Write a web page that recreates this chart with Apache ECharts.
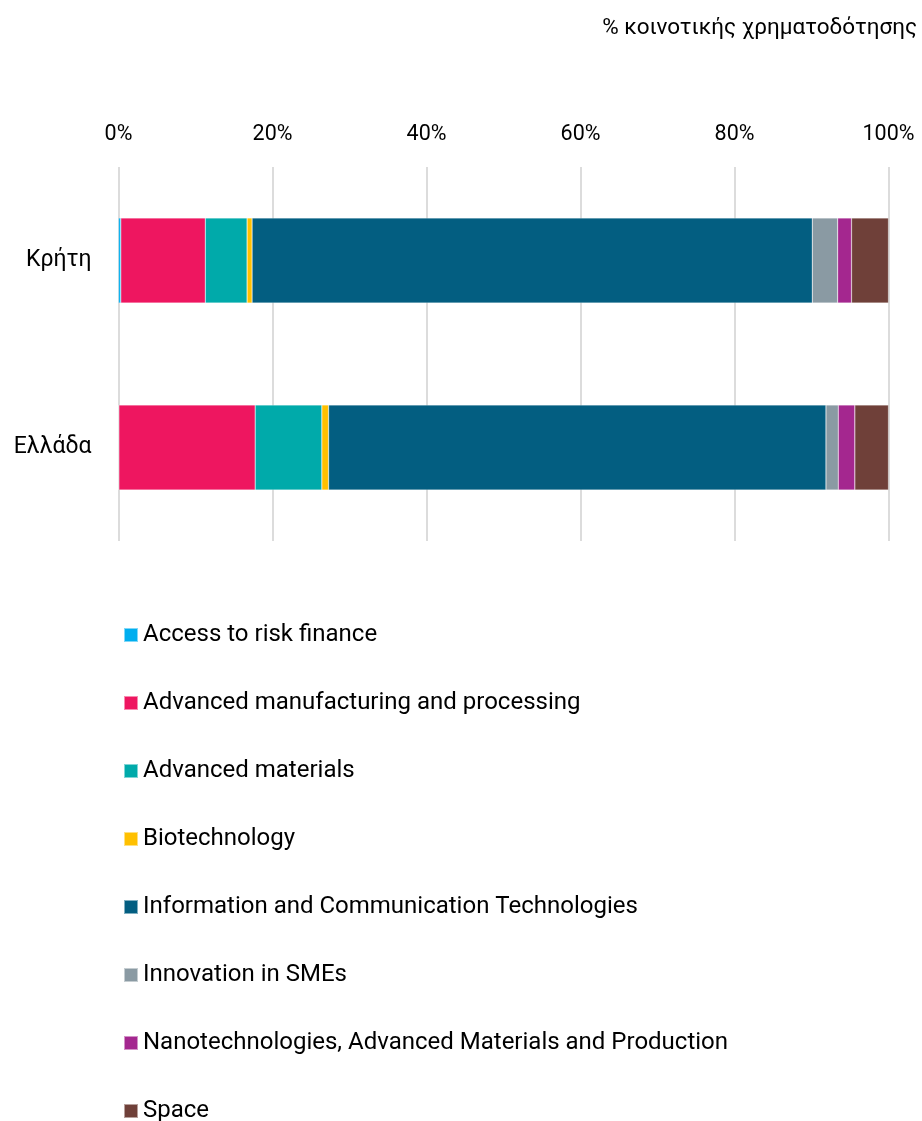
<!DOCTYPE html>
<html><head><meta charset="utf-8">
<script src="https://cdn.jsdelivr.net/npm/echarts@6/dist/echarts.min.js"></script>
<style>html,body{margin:0;padding:0;background:#fff}#c{width:922px;height:1121px}</style>
</head><body><div id="c"></div>
<script>
const categories = ['Κρήτη', 'Ελλάδα'];
const seriesNames = ['Access to risk finance','Advanced manufacturing and processing','Advanced materials','Biotechnology','Information and Communication Technologies','Innovation in SMEs','Nanotechnologies, Advanced Materials and Production','Space'];
const accessRisk = [0.3, 0.05];
const advManuf = [10.97, 17.7];
const advMaterials = [5.43, 8.66];
const biotech = [0.65, 0.87];
const ict = [72.75, 64.6];
const smes = [3.3, 1.6];
const nano = [1.8, 2.15];
const space = [4.8, 4.37];
const tickValues = [0, 20, 40, 60, 80, 100];
const colors = ['#00AEEF','#EE1660','#00AAAA','#FFC000','#035E81','#8A9AA3','#A4278F','#6F4039'];
const values = [accessRisk, advManuf, advMaterials, biotech, ict, smes, nano, space];

const chart = echarts.init(document.getElementById('c'));
const font = 'Roboto, "DejaVu Sans", sans-serif';
chart.setOption({
  animation: false,
  color: colors,
  title: {
    text: '% κοινοτικής χρηματοδότησης',
    right: 0, top: 12,
    textStyle: {fontFamily: font, fontSize: 22.5, fontWeight: 'normal', color: '#000'}
  },
  grid: {left: 118.5, right: 922 - 888.5, top: 167, bottom: 1121 - 541, containLabel: false},
  xAxis: {
    type: 'value', position: 'top', min: 0, max: 100, interval: 20,
    axisLine: {show: false}, axisTick: {show: false},
    splitLine: {lineStyle: {color: '#dcdcdc', width: 2}},
    axisLabel: {fontFamily: font, fontSize: 21.5, color: '#000', margin: 21,
      formatter: v => tickValues.includes(v) ? v + '%' : ''}
  },
  yAxis: {
    type: 'category', data: categories, inverse: true,
    axisLine: {show: false}, axisTick: {show: false},
    axisLabel: {fontFamily: font, fontSize: 23, color: '#000', margin: 27}
  },
  legend: {
    orient: 'vertical', left: 118, top: 617, height: 520,
    itemWidth: 14, itemHeight: 14, itemGap: 42,
    icon: 'rect',
    textStyle: {fontFamily: font, fontSize: 24, color: '#000', lineHeight: 26},
    data: seriesNames
  },
  series: seriesNames.map((n, i) => ({
    name: n, type: 'bar', stack: 'total', barWidth: '45.5%',
    itemStyle: {borderColor: 'rgba(255,255,255,0.5)', borderWidth: 0.5},
    data: values[i]
  }))
});
</script></body></html>
